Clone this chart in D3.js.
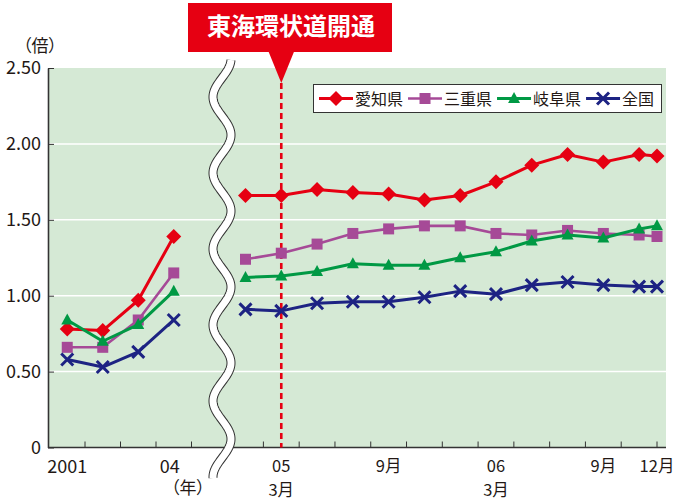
<!DOCTYPE html>
<html>
<head>
<meta charset="utf-8">
<script src="https://cdn.jsdelivr.net/npm/d3@7"></script>
<style>
body { margin: 0; background: #fff; }
text { font-family: "Noto Sans CJK JP", "Noto Sans", sans-serif; fill: #231815; }
</style>
</head>
<body>
<div id="chart"></div>
<script>
// yearly part (2001-2004)
var years = ["2001", "2002", "2003", "2004"];
var aichiYear   = [0.78, 0.77, 0.97, 1.39];
var mieYear     = [0.66, 0.66, 0.84, 1.15];
var gifuYear    = [0.84, 0.70, 0.81, 1.03];
var zenkokuYear = [0.58, 0.53, 0.63, 0.84];

// monthly part (2005-01 .. 2006-12)
var months = ["2005-01", "2005-03", "2005-05", "2005-07", "2005-09", "2005-11",
              "2006-01", "2006-03", "2006-05", "2006-07", "2006-09", "2006-11", "2006-12"];
var aichiMonth   = [1.66, 1.66, 1.70, 1.68, 1.67, 1.63, 1.66, 1.75, 1.86, 1.93, 1.88, 1.93, 1.92];
var mieMonth     = [1.24, 1.28, 1.34, 1.41, 1.44, 1.46, 1.46, 1.41, 1.40, 1.43, 1.41, 1.40, 1.39];
var gifuMonth    = [1.12, 1.13, 1.16, 1.21, 1.20, 1.20, 1.25, 1.29, 1.36, 1.40, 1.38, 1.44, 1.46];
var zenkokuMonth = [0.91, 0.90, 0.95, 0.96, 0.96, 0.99, 1.03, 1.01, 1.07, 1.09, 1.07, 1.06, 1.06];

var seriesNames  = ["愛知県", "三重県", "岐阜県", "全国"];
var seriesColors = ["#e60012", "#a64a97", "#009944", "#1d2383"];
var seriesMarks  = ["diamond", "square", "triangle", "cross"];

var yTicks = [0, 0.5, 1, 1.5, 2, 2.5];
var yearLabelYears = ["2001", "2004"];
var yearLabelText  = ["2001", "04"];
var monthTicks = ["2005-02", "2005-04", "2005-06", "2005-08", "2005-10", "2005-12",
                  "2006-02", "2006-04", "2006-06", "2006-08", "2006-10", "2006-12"];
var monthLabelDates = ["2005-03", "2005-09", "2006-03", "2006-09", "2006-12"];
var monthLabelText  = ["05\n3月", "9月", "06\n3月", "9月", "12月"];
var openingMonth = "2005-03";
var titleText = "東海環状道開通";

var svg = d3.select("#chart").append("svg")
  .attr("width", 677)
  .attr("height", 500);

var left = 48, right = 666;

function mi(s) {
  var p = s.split("-");
  return (+p[0] - 2005) * 12 + (+p[1] - 1);
}

var y = d3.scaleLinear().domain([0, 2.5]).range([447.5, 68]);
var xYear = d3.scaleBand().domain(years).range([49.5, 191.5]);
var xMonth = d3.scaleLinear().domain([0, 23]).range([245.5, 657]);

function xy(d) { return xYear(d) + xYear.bandwidth() / 2; }
function xm(d) { return xMonth(mi(d)); }

// background
svg.append("rect")
  .attr("x", left).attr("y", y(2.5))
  .attr("width", right - left).attr("height", y(0) - y(2.5))
  .attr("fill", "#d5e9d5");

svg.selectAll(".grid").data(yTicks.filter(function(d) { return d > 0 && d < 2.5; }))
  .enter().append("line")
  .attr("class", "grid")
  .attr("x1", left).attr("x2", right)
  .attr("y1", function(d) { return y(d); })
  .attr("y2", function(d) { return y(d); })
  .style("stroke", "#fff")
  .style("stroke-width", 1.5);

// y axis
var yAxis = svg.append("g")
  .attr("transform", "translate(" + left + ",0)")
  .call(d3.axisLeft(y).tickValues(yTicks)
    .tickSizeInner(-6).tickSizeOuter(0).tickPadding(7)
    .tickFormat(function(d) { return d === 0 ? "0" : d3.format(".2f")(d); }));
yAxis.attr("font-family", null).attr("font-size", null);
yAxis.select(".domain").style("stroke", "#333").style("stroke-width", 1.6);
yAxis.selectAll(".tick line").style("stroke", "#333");
yAxis.selectAll(".tick text").style("font-size", "18px").style("fill", "#231815");

svg.append("text")
  .attr("x", 40).attr("y", 52)
  .attr("text-anchor", "middle")
  .style("font-size", "17px")
  .style("font-feature-settings", "'palt'")
  .text("（倍）");

// x axis
svg.append("line")
  .attr("x1", left).attr("x2", right)
  .attr("y1", y(0)).attr("y2", y(0))
  .style("stroke", "#333").style("stroke-width", 1.6);

var tickX = years.map(function(d) { return xYear(d) + xYear.bandwidth(); })
  .concat(monthTicks.map(xm));
svg.selectAll(".xtick").data(tickX).enter().append("line")
  .attr("class", "xtick")
  .attr("x1", function(d) { return d; }).attr("x2", function(d) { return d; })
  .attr("y1", y(0)).attr("y2", y(0) - 6)
  .style("stroke", "#333").style("stroke-width", 1);

svg.selectAll(".ylab").data(yearLabelYears).enter().append("text")
  .attr("class", "ylab")
  .attr("x", function(d, i) { return xy(d) - (i === 1 ? 4 : 0); })
  .attr("y", 473)
  .attr("text-anchor", "middle")
  .style("font-size", "18px")
  .text(function(d, i) { return yearLabelText[i]; });

svg.append("text")
  .attr("x", 188).attr("y", 494)
  .attr("text-anchor", "middle")
  .style("font-size", "17px")
  .style("font-feature-settings", "'palt'")
  .text("（年）");

// month labels, one text per line
monthLabelDates.forEach(function(d, i) {
  var lines = monthLabelText[i].split("\n");
  svg.selectAll(".mlab" + i).data(lines).enter().append("text")
    .attr("class", "mlab" + i)
    .attr("x", xm(d))
    .attr("y", function(t, j) { return 472 + j * 24; })
    .attr("text-anchor", "middle")
    .style("font-size", "16.5px")
    .text(function(t) { return t; });
});

// opening line
svg.append("line")
  .attr("x1", xm(openingMonth)).attr("x2", xm(openingMonth))
  .attr("y1", 83).attr("y2", y(0))
  .style("stroke", "#e60012")
  .style("stroke-width", 2.6)
  .style("stroke-dasharray", "6,4");

// series
function markPath(t) {
  if (t == "diamond") return "M0,-7.5L7.5,0L0,7.5L-7.5,0Z";
  if (t == "square") return "M-5.5,-5.5h11v11h-11Z";
  if (t == "triangle") return "M0,-6.5L6,4.5L-6,4.5Z";
  return "M-6,-6L6,6M6,-6L-6,6";
}

var yearSeries = [aichiYear, mieYear, gifuYear, zenkokuYear];
var monthSeries = [aichiMonth, mieMonth, gifuMonth, zenkokuMonth];
var lineW = [3, 2.6, 3, 3];

var line = d3.line()
  .x(function(d) { return d[0]; })
  .y(function(d) { return y(d[1]); });

function drawMarks(g, pts, i) {
  g.selectAll(".mk").data(pts).enter().append("path")
    .attr("class", "mk")
    .attr("transform", function(d) { return "translate(" + d[0] + "," + y(d[1]) + ")"; })
    .attr("d", markPath(seriesMarks[i]))
    .style("fill", seriesMarks[i] == "cross" ? "none" : seriesColors[i])
    .style("stroke", seriesMarks[i] == "cross" ? seriesColors[i] : "none")
    .style("stroke-width", 3);
}

seriesNames.forEach(function(name, i) {
  var p1 = years.map(function(d, k) { return [xy(d), yearSeries[i][k]]; });
  var p2 = months.map(function(d, k) { return [xm(d), monthSeries[i][k]]; });
  [p1, p2].forEach(function(pts) {
    var g = svg.append("g");
    g.append("path")
      .attr("d", line(pts))
      .style("fill", "none")
      .style("stroke", seriesColors[i])
      .style("stroke-width", lineW[i])
      .style("stroke-linejoin", "round");
    drawMarks(g, pts, i);
  });
});

// break mark
var wave = d3.range(60, 479, 1).map(function(v) {
  return [222 - 9 * Math.sin(2 * Math.PI * (v - 78) / 76), v];
});
var waveLine = d3.line();
svg.append("path").attr("d", waveLine(wave))
  .style("fill", "none").style("stroke", "#333").style("stroke-width", 9);
svg.append("path").attr("d", waveLine(wave))
  .style("fill", "none").style("stroke", "#fff").style("stroke-width", 7);

// legend
var lg = svg.append("g");
lg.append("rect")
  .attr("x", 313.5).attr("y", 84.5)
  .attr("width", 348).attr("height", 28)
  .style("fill", "#fff").style("stroke", "#333").style("stroke-width", 1);
var lx = 319;
seriesNames.forEach(function(name, i) {
  lg.append("line")
    .attr("x1", lx).attr("x2", lx + 34)
    .attr("y1", 98.5).attr("y2", 98.5)
    .style("stroke", seriesColors[i]).style("stroke-width", lineW[i]);
  drawMarks(lg.append("g"), [[lx + 17, y.invert(98.5)]], i);
  var t = lg.append("text")
    .attr("x", lx + 36).attr("y", 104.5)
    .style("font-size", "16px")
    .text(name);
  lx += 36 + t.node().getComputedTextLength() + 5;
});

// title
var tg = svg.append("g");
var tx = xm(openingMonth);
tg.append("rect")
  .attr("x", 188).attr("y", 3)
  .attr("width", 204).attr("height", 49)
  .style("fill", "#e60012");
tg.append("path")
  .attr("d", "M" + (tx - 13) + ",51L" + (tx + 13) + ",51L" + tx + ",83Z")
  .style("fill", "#e60012");
tg.append("text")
  .attr("x", 291).attr("y", 35)
  .attr("text-anchor", "middle")
  .style("font-size", "24px")
  .style("font-weight", "bold")
  .style("fill", "#fff")
  .text(titleText);
</script>
</body>
</html>
